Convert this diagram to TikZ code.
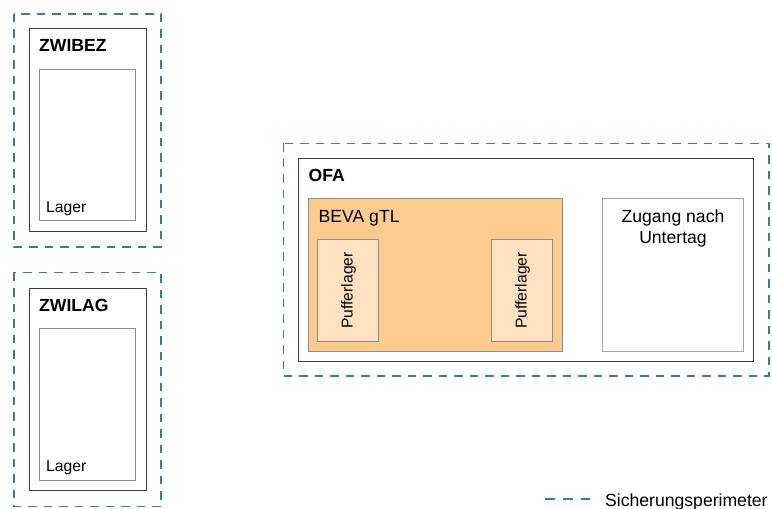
\documentclass[tikz,border=0pt]{standalone}
\usepackage{fontspec}
\setmainfont{Liberation Sans}
\definecolor{perim}{RGB}{46,126,166}
\definecolor{bevafill}{RGB}{251,203,143}
\definecolor{pufffill}{RGB}{253,225,192}
\definecolor{frame}{RGB}{60,60,60}
\definecolor{innergray}{RGB}{140,140,140}
\tikzset{
  perimeter/.style={draw=perim, line width=1.6bp, dash pattern=on 8.5bp off 7bp},
  sitebox/.style={draw=frame, line width=1bp, fill=white},
  innerbox/.style={draw=innergray, line width=1bp, fill=white},
  bevabox/.style={draw=innergray, line width=1bp, fill=bevafill},
  puffbox/.style={draw=innergray, line width=1bp, fill=pufffill},
  titletext/.style={inner sep=0pt, anchor=base west, font=\fontsize{17.6bp}{21bp}\selectfont\bfseries},
  bigtext/.style={inner sep=0pt, font=\fontsize{17.6bp}{21bp}\selectfont},
  smalltext/.style={inner sep=0pt, font=\fontsize{15.7bp}{19bp}\selectfont},
}
\begin{document}
\begin{tikzpicture}[x=1bp,y=-1bp]
\useasboundingbox (0,0) rectangle (772,509);
% ZWIBEZ
\draw[perimeter] (14,14) rectangle (161,247);
\draw[sitebox] (29,29) rectangle (146,232);
\draw[innerbox] (39,70) rectangle (135.5,221);
\node[titletext] (zwibez) at (39,52) {ZWIBEZ};
\node[smalltext, anchor=base west] (lager1) at (46,213) {Lager};
% ZWILAG
\draw[perimeter] (14,272.5) rectangle (161,506.5);
\draw[sitebox] (29,288) rectangle (146,490.5);
\draw[innerbox] (39,328.5) rectangle (135.5,480.5);
\node[titletext] (zwilag) at (39,311) {ZWILAG};
\node[smalltext, anchor=base west] (lager2) at (46,471.5) {Lager};
% OFA
\draw[perimeter] (283.5,143.5) rectangle (769,376);
\draw[sitebox] (298.5,159) rectangle (753.5,361.5);
\node[titletext] (ofa) at (308.5,181.7) {OFA};
\draw[bevabox] (308.5,199) rectangle (562.5,351.5);
\node[bigtext, anchor=base west] (beva) at (318.5,222.3) {BEVA gTL};
\draw[puffbox] (317.5,239.5) rectangle (378.5,341.5);
\node[smalltext, rotate=90] (puff1) at (348.5,290.5) {Pufferlager};
\draw[puffbox] (491.5,239.5) rectangle (552.5,341.5);
\node[smalltext, rotate=90] (puff2) at (522.5,290.5) {Pufferlager};
\draw[innerbox, draw=innergray!80] (602.5,199) rectangle (743.5,351.5);
\node[bigtext, anchor=base, align=center] (zugang) at (673,243.3) {Zugang nach\\Untertag};
% legend
\coordinate (lega) at (545,499);
\coordinate (legb) at (590,499);
\draw[perim, line width=1.6bp, dash pattern=on 10bp off 8bp] (lega) -- (legb);
\node[bigtext, anchor=base west] (legtext) at (605,506) {Sicherungsperimeter};
\end{tikzpicture}
\end{document}
